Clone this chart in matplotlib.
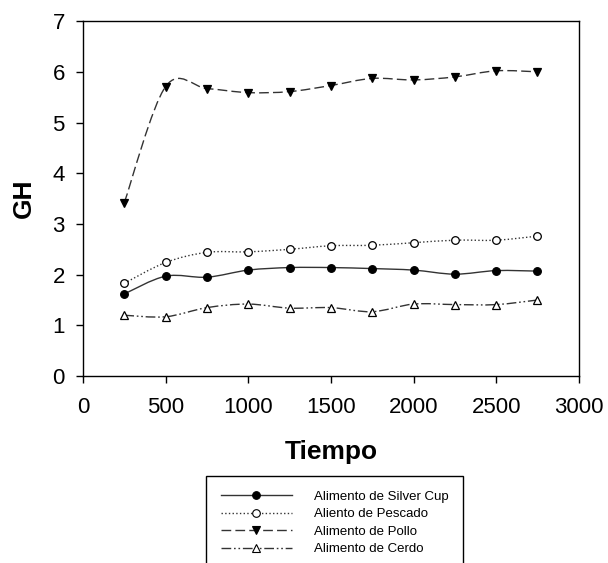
import numpy as np
import matplotlib
matplotlib.use("Agg")
import matplotlib.pyplot as plt
from matplotlib.path import Path
from matplotlib.patches import PathPatch
from matplotlib.lines import Line2D

plt.rcParams["font.family"] = ["Liberation Sans", "DejaVu Sans"]

# Datos
tiempo = [250, 500, 750, 1000, 1250, 1500, 1750, 2000, 2250, 2500, 2750]
silver_cup = [1.62, 1.97, 1.95, 2.09, 2.14, 2.14, 2.12, 2.09, 2.01, 2.08, 2.07]
pescado = [1.83, 2.24, 2.44, 2.45, 2.50, 2.57, 2.58, 2.63, 2.68, 2.68, 2.76]
pollo = [3.42, 5.71, 5.67, 5.59, 5.61, 5.73, 5.87, 5.84, 5.90, 6.02, 6.00]
cerdo = [1.20, 1.17, 1.35, 1.42, 1.34, 1.35, 1.27, 1.42, 1.41, 1.41, 1.50]

labels = ["Alimento de Silver Cup", "Aliento de Pescado",
          "Alimento de Pollo", "Alimento de Cerdo"]


def curva_suave(x, y):
    # trazo tipo Catmull-Rom convertido a Bezier cubico
    x = np.asarray(x, float)
    y = np.asarray(y, float)
    n = len(x)
    verts = [(x[0], y[0])]
    codes = [Path.MOVETO]
    for i in range(n - 1):
        i0 = max(i - 1, 0)
        i3 = min(i + 2, n - 1)
        c1 = (x[i] + (x[i + 1] - x[i0]) / 6, y[i] + (y[i + 1] - y[i0]) / 6)
        c2 = (x[i + 1] - (x[i3] - x[i]) / 6, y[i + 1] - (y[i3] - y[i]) / 6)
        verts += [c1, c2, (x[i + 1], y[i + 1])]
        codes += [Path.CURVE4] * 3
    return Path(verts, codes)


fig = plt.figure(figsize=(6.08, 5.63), dpi=100)
ax = fig.add_axes([0.1365, 0.332, 0.8155, 0.6305])

series = [
    (silver_cup, "-", "o", "black"),
    (pescado, ":", "o", "white"),
    (pollo, (0, (7, 3)), "v", "black"),
    (cerdo, (0, (7, 2, 1.2, 2, 1.2, 2)), "^", "white"),
]

handles = []
for (vals, ls, mk, fc), lab in zip(series, labels):
    patch = PathPatch(curva_suave(tiempo, vals), facecolor="none",
                      edgecolor="#333333", linewidth=1.0, linestyle=ls, zorder=2)
    ax.add_patch(patch)
    ax.plot(tiempo, vals, linestyle="none", marker=mk, markersize=5.5,
            markerfacecolor=fc, markeredgecolor="black", markeredgewidth=0.9,
            zorder=3)
    handles.append(Line2D([], [], color="#333333", linewidth=1.0, linestyle=ls,
                          marker=mk, markersize=5.5, markerfacecolor=fc,
                          markeredgecolor="black", markeredgewidth=0.8))

ax.set_xlim(0, 3000)
ax.set_ylim(0, 7)
ax.set_xticks(range(0, 3001, 500))
ax.set_yticks(range(0, 8))
ax.tick_params(direction="out", length=5, width=1, labelsize=16,
               right=False, top=False)
ax.tick_params(axis="x", pad=10)
ax.tick_params(axis="y", pad=8)
for s in ax.spines.values():
    s.set_linewidth(1.0)

ax.set_xlabel("Tiempo", fontsize=19, fontweight="bold", labelpad=16)
ax.set_ylabel("GH", fontsize=19, fontweight="bold", labelpad=12)

fig.legend(handles=handles, labels=labels, loc="upper left",
           bbox_to_anchor=(206 / 608, 1 - 476 / 563), fontsize=9.5,
           handlelength=5.4, handletextpad=1.7, labelspacing=0.4,
           borderpad=1.1, fancybox=False, edgecolor="black",
           framealpha=1, numpoints=1, borderaxespad=0)

fig.savefig("out.png", dpi=100)
